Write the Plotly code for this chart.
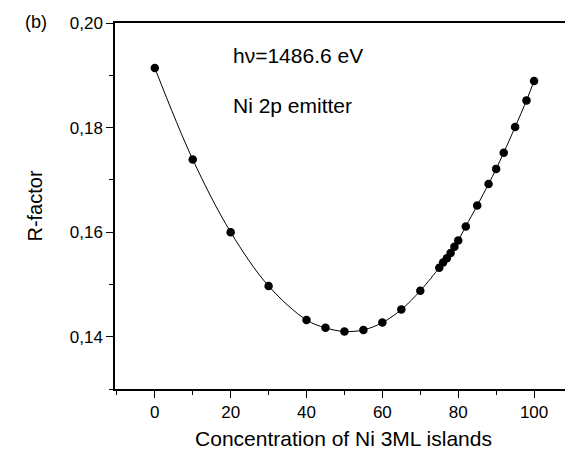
import plotly.graph_objects as go

# concentration of Ni 3ML islands (%) and R-factor
conc = [0, 10, 20, 30, 40, 45, 50, 55, 60, 65, 70, 75, 76, 77, 78, 79, 80,
        82, 85, 88, 90, 92, 95, 98, 100]
rfac = [0.1914, 0.1739, 0.1600, 0.1497, 0.1432, 0.1417, 0.1410, 0.1413,
        0.1427, 0.1452, 0.1488, 0.1532, 0.1542, 0.1550, 0.1560, 0.1572,
        0.1584, 0.1611, 0.1651, 0.1692, 0.1721, 0.1752, 0.1801, 0.1852,
        0.1889]

font = "Liberation Sans, Arial, sans-serif"

# page body has an 8px margin, so the figure is a bit smaller than the window
W, H = 565, 442
ML, MR, MT, MB = 107, 1, 15, 61
plot_w = W - ML - MR
plot_h = H - MT - MB

fig = go.Figure()
fig.add_trace(go.Scatter(x=conc, y=rfac,
                         mode="lines+markers",
                         line=dict(color="black", width=1, shape="spline"),
                         marker=dict(color="black", size=8.5),
                         showlegend=False))

axis_common = dict(showline=True, linecolor="black", linewidth=1.5,
                   mirror=True, showgrid=False, zeroline=False,
                   automargin=False,
                   ticks="outside", ticklen=7, tickwidth=1, tickcolor="black",
                   tickfont=dict(size=17, color="black", family=font))

fig.update_xaxes(range=[-10.5, 110], tick0=0, dtick=20,
                 minor=dict(ticks="outside", ticklen=4, dtick=10, tick0=0,
                            tickcolor="black"),
                 title=dict(text="Concentration of Ni 3ML islands",
                            font=dict(size=21, color="black", family=font),
                            standoff=10),
                 **axis_common)
fig.update_yaxes(range=[0.13, 0.20], tick0=0.14, dtick=0.02, tickformat=".2f",
                 minor=dict(ticks="outside", ticklen=4, dtick=0.01, tick0=0.14,
                            tickcolor="black"),
                 title=dict(text="R-factor",
                            font=dict(size=20, color="black", family=font),
                            standoff=22),
                 **axis_common)

fig.add_annotation(text="hν=1486.6 eV", x=20, y=(H - 48 - MB) / plot_h,
                   xref="x", yref="paper", xanchor="left", yanchor="middle",
                   showarrow=False,
                   font=dict(size=21, color="black", family=font))
fig.add_annotation(text="Ni 2p emitter", x=20, y=(H - 97 - MB) / plot_h,
                   xref="x", yref="paper", xanchor="left", yanchor="middle",
                   showarrow=False,
                   font=dict(size=21, color="black", family=font))
fig.add_annotation(text="(b)", x=(28 - ML) / plot_w, y=(H - 14 - MB) / plot_h,
                   xref="paper", yref="paper", xanchor="center",
                   yanchor="middle", showarrow=False,
                   font=dict(size=18, color="black", family=font))

fig.update_layout(width=W, height=H,
                  margin=dict(l=ML, r=MR, t=MT, b=MB, autoexpand=False),
                  paper_bgcolor="white", plot_bgcolor="white",
                  separators=",.",
                  font=dict(family=font, color="black"))

fig.write_html("out.html")
